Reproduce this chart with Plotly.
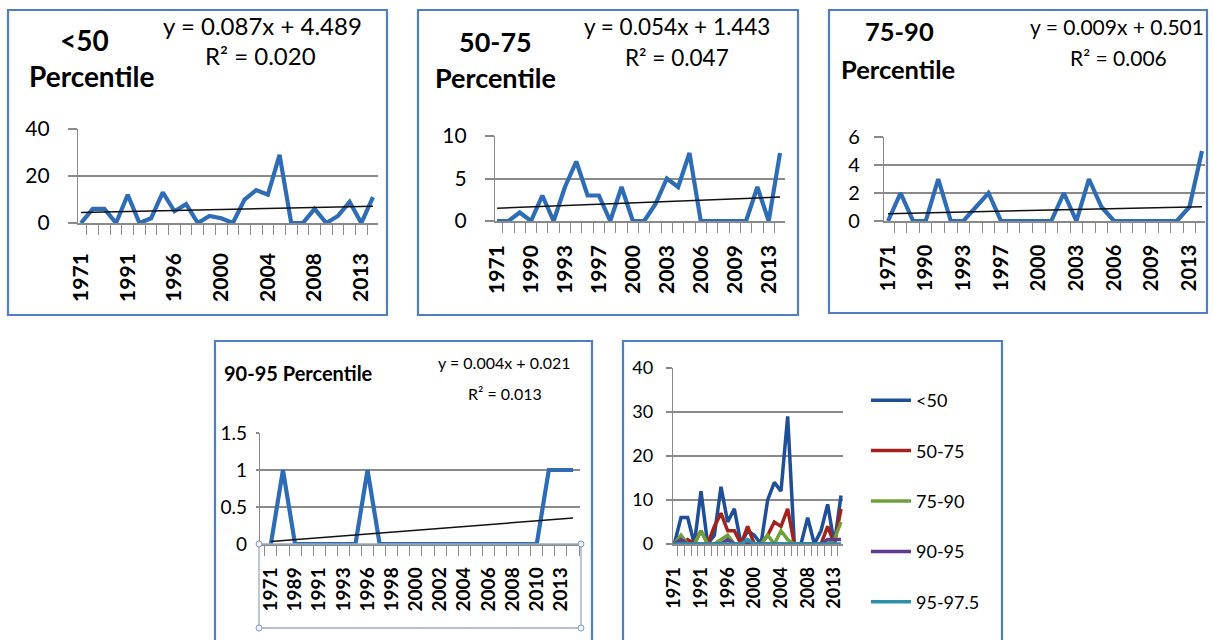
import numpy as np
import plotly.graph_objects as go

# ---------------- data ----------------
years = ["1971", "1988", "1989", "1990", "1991", "1992", "1993", "1994", "1996",
         "1997", "1998", "1999", "2000", "2001", "2002", "2003", "2004", "2005",
         "2006", "2007", "2008", "2009", "2010", "2011", "2013", "2014"]
lt50 = [0, 6, 6, 0, 12, 0, 2, 13, 5, 8, 0, 3, 2, 0, 10, 14, 12, 29, 0, 0, 6, 0, 3, 9, 0, 11]
p50_75 = [0, 0, 1, 0, 3, 0, 4, 7, 3, 3, 0, 4, 0, 0, 2, 5, 4, 8, 0, 0, 0, 0, 0, 4, 0, 8]
p75_90 = [0, 2, 0, 0, 3, 0, 0, 1, 2, 0, 0, 0, 0, 0, 2, 0, 3, 1, 0, 0, 0, 0, 0, 0, 1, 5]
p90_95 = [0, 1, 0, 0, 0, 0, 0, 0, 1, 0, 0, 0, 0, 0, 0, 0, 0, 0, 0, 0, 0, 0, 0, 1, 1, 1]
p95_975 = [0, 0, 0, 0, 0, 0, 0, 0, 0, 0, 0, 1, 0, 0, 0, 0, 0, 0, 0, 0, 0, 0, 0, 0, 0, 0]

series_names = ["<50", "50-75", "75-90", "90-95", "95-97.5"]
equations = ["y = 0.087x + 4.489", "y = 0.054x + 1.443", "y = 0.009x + 0.501", "y = 0.004x + 0.021"]
r2_texts = ["R² = 0.020", "R² = 0.047", "R² = 0.006", "R² = 0.013"]

# ---------------- layout helpers ----------------
W, H = 1213, 640
def px(x): return x / W
def py(y): return 1 - y / H

FONT = "Lato"
GRID = "#8a8a8a"
AXIS = "#8a8a8a"
BLUE = "#2E6DB6"
BOX = "#4F7FC0"
combo_colors = ["#1F4F96", "#A3231C", "#70A03A", "#5E3B8E", "#2E8FAA"]

fig = go.Figure()

panels = [
    dict(data=lt50, dom=(78, 378, 129, 223), yr=[0, 40], dy=20, every=4, xr=[-0.26, 25.43],
         yfs=21, xfs=21, xso=20, ytl=9, yso=14),
    dict(data=p50_75, dom=(495, 785, 136, 221), yr=[0, 10], dy=5, every=3, xr=[-0.18, 25.44],
         yfs=21, xfs=21, xso=14, ytl=9, yso=14),
    dict(data=p75_90, dom=(884, 1205, 137, 221), yr=[0, 6], dy=2, every=3, xr=[-0.32, 25.24],
         yfs=20, xfs=20, xso=14, ytl=9, yso=10),
    dict(data=p90_95, dom=(260, 580, 433, 544), yr=[0, 1.5], dy=0.5, every=2, xr=[-0.9, 25.58],
         yfs=19, xfs=19, xso=14, ytl=3, yso=5),
]

x_idx = np.arange(1, len(years) + 1)

for i, p in enumerate(panels):
    n = i + 1
    xa = "x" if n == 1 else f"x{n}"
    ya = "y" if n == 1 else f"y{n}"
    fig.add_trace(go.Scatter(x=years, y=p["data"], mode="lines", xaxis=xa, yaxis=ya,
                             line=dict(color=BLUE, width=4.2), showlegend=False))
    slope, icpt = np.polyfit(x_idx, np.array(p["data"], dtype=float), 1)
    trend = slope * x_idx + icpt
    fig.add_trace(go.Scatter(x=years, y=trend, mode="lines", xaxis=xa, yaxis=ya,
                             line=dict(color="#111111", width=1.5), showlegend=False))

# combined panel
combo = [lt50, p50_75, p75_90, p90_95, p95_975]
for name, data, col in zip(series_names, combo, combo_colors):
    fig.add_trace(go.Scatter(x=years, y=data, mode="lines", xaxis="x5", yaxis="y5",
                             name=name, line=dict(color=col, width=3.5),
                             legendgroup=name, showlegend=True))
panels.append(dict(dom=(673, 843, 368, 544), yr=[0, 40], dy=10, every=4, xr=[-0.2, 25.3],
                   yfs=18, xfs=18, xso=14, ytl=6, yso=9))

for i, p in enumerate(panels):
    n = i + 1
    x0, x1, y0, y1 = p["dom"]
    ticktext = [y if k % p["every"] == 0 else "" for k, y in enumerate(years)]
    xkey = "xaxis" if n == 1 else f"xaxis{n}"
    ykey = "yaxis" if n == 1 else f"yaxis{n}"
    fig.update_layout({
        xkey: dict(domain=[px(x0), px(x1)], anchor="y" if n == 1 else f"y{n}",
                   type="category", range=p["xr"], tickmode="array",
                   tickvals=years, ticktext=ticktext, tickangle=-90,
                   tickson="boundaries", ticks="outside", ticklen=10,
                   tickcolor=AXIS, tickwidth=1.3, showline=True, linecolor=AXIS,
                   linewidth=1.5, showgrid=False, zeroline=False,
                   ticklabelstandoff=p["xso"], automargin=False,
                   tickfont=dict(family=FONT, size=p["xfs"], color="#000", weight="bold")),
        ykey: dict(domain=[py(y1), py(y0)], anchor="x" if n == 1 else f"x{n}",
                   range=p["yr"], dtick=p["dy"], tick0=0, showgrid=True,
                   gridcolor=GRID, gridwidth=1.5, showline=True, linecolor=AXIS,
                   linewidth=1.3, ticks="outside", ticklen=p["ytl"], tickcolor=GRID,
                   tickwidth=1.5, zeroline=False, ticklabelstandoff=p["yso"],
                   automargin=False,
                   tickfont=dict(family=FONT, size=p["yfs"], color="#000")),
    })

# panel boxes
boxes = [(8, 10, 387, 315), (418, 10, 798, 315), (829, 10, 1207, 313),
         (215, 341, 592, 660), (623, 341, 1002, 660)]
shapes = []
for bx0, by0, bx1, by1 in boxes:
    shapes.append(dict(type="rect", xref="paper", yref="paper",
                       x0=px(bx0), x1=px(bx1), y0=py(by1), y1=py(by0),
                       line=dict(color=BOX, width=2.2), layer="below"))

# selection rectangle around panel-4 category axis
sx0, sx1, sy0, sy1 = 259, 581, 544, 628
shapes.append(dict(type="rect", xref="paper", yref="paper", x0=px(sx0), x1=px(sx1),
                   y0=py(sy1), y1=py(sy0), line=dict(color="#9aaac4", width=1.3)))
for cx, cy in [(sx0, sy0), (sx1, sy0), (sx0, sy1), (sx1, sy1)]:
    r = 3
    shapes.append(dict(type="circle", xref="paper", yref="paper",
                       x0=px(cx - r), x1=px(cx + r), y0=py(cy + r), y1=py(cy - r),
                       line=dict(color="#7f97bd", width=1), fillcolor="#eef3fb"))

# annotations: titles and equations
ann = []
def text(x, y, s, size, bold=False, family=FONT):
    ann.append(dict(xref="paper", yref="paper", x=px(x), y=py(y), text=s,
                    showarrow=False, xanchor="center", yanchor="middle",
                    font=dict(family=family, size=size, color="#000",
                              weight="bold" if bold else "normal")))

text(84, 40, "<50", 28, True)
text(91, 76, "Percentile", 28, True)
text(262, 25, equations[0], 24)
text(260, 55, r2_texts[0], 24)

text(495, 41, "50-75", 27, True)
text(495, 77, "Percentile", 27, True)
text(677, 26, equations[1], 22.5)
text(677, 58, r2_texts[1], 22.5)

text(899, 31, "75-90", 25.5, True)
text(898, 69, "Percentile", 25.5, True)
text(1117, 26, equations[2], 21)
text(1118, 58, r2_texts[2], 21)

ann.append(dict(xref="paper", yref="paper", x=px(222), y=py(373), text="90-95 Percentile",
                showarrow=False, xanchor="left", yanchor="middle",
                font=dict(family=FONT, size=20, color="#000", weight="bold")))
text(504, 362, equations[3], 16)
text(505, 393, r2_texts[3], 16)

fig.update_layout(
    width=W, height=H, margin=dict(l=0, r=0, t=0, b=0, pad=0, autoexpand=False),
    paper_bgcolor="white", plot_bgcolor="white",
    shapes=shapes, annotations=ann,
    showlegend=True,
    legend=dict(x=px(866), y=py(382), xanchor="left", yanchor="top",
                font=dict(family=FONT, size=18, color="#000"),
                tracegroupgap=24, bgcolor="rgba(0,0,0,0)", itemwidth=40),
)

fig.write_html("out.html", config={"displayModeBar": False},
               post_script="document.body.style.margin='0px';document.body.style.overflow='hidden';")
